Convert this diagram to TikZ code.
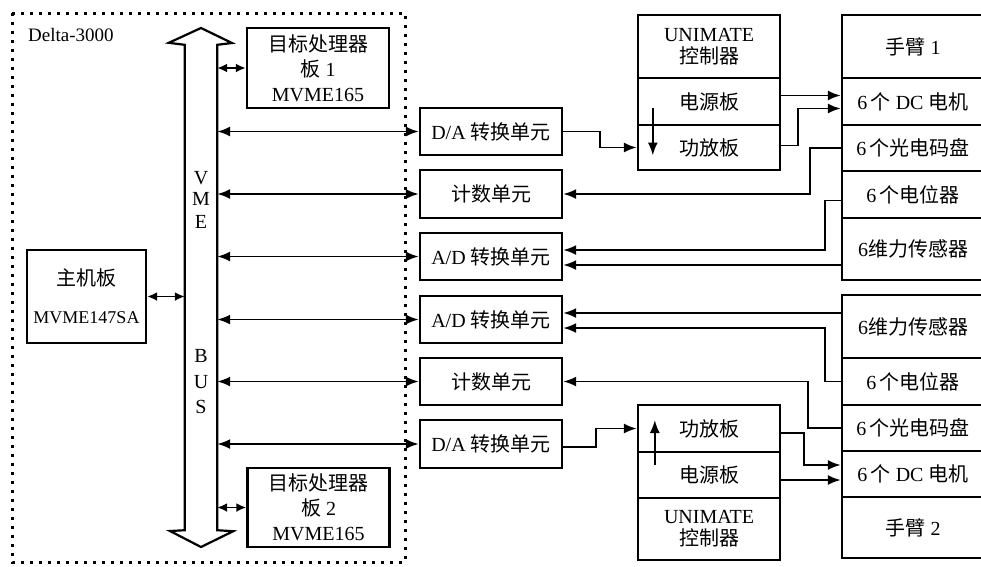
\documentclass[tikz,border=0pt]{standalone}
\usepackage{fontspec}
\setmainfont{Liberation Serif}
\newfontfamily\cjk{Noto Sans CJK SC}
\newcommand{\zh}[1]{{\cjk #1}}
\usetikzlibrary{arrows.meta,calc}
\begin{document}
\begin{tikzpicture}[x=1pt,y=-1pt,
  box/.style={draw,line width=2.4pt,inner sep=0pt,align=center,font=\fontsize{20}{25}\selectfont},
  mid/.style={box,minimum width=142pt,minimum height=47pt},
  sect/.style={box,minimum width=142pt},
  letter/.style={inner sep=0pt,font=\fontsize{20}{22}\selectfont},
  conn/.style={line width=1.9pt},
  arr/.style={conn,-{Latex[length=13pt,width=10pt]}},
  dbl/.style={conn,{Latex[length=13pt,width=10pt]}-{Latex[length=13pt,width=10pt]}},
  sdbl/.style={conn,{Latex[length=10pt,width=9pt]}-{Latex[length=10pt,width=9pt]}},
]
\clip (0,0) rectangle (981,566);
\fill[white] (0,0) rectangle (981,566);

% dotted frame
\draw[line width=3pt, dash pattern=on 3pt off 6pt] (12,13) rectangle (405,562);
\node[anchor=west,inner sep=0pt,font=\fontsize{19}{22}\selectfont] (delta) at (28,35) {Delta-3000};

% VME bus
\node[inner sep=0pt,minimum width=32pt,minimum height=485pt] (bus) at (201,287.5) {};
\draw[line width=2.2pt,line join=miter]
  (bus.south west) -- (bus.north west) -- ++(-16,-2) -- (201,28) -- (232,43)
  -- (bus.north east) -- (bus.south east) -- ++(16,1) -- (201,547) -- (170,531) -- cycle;
\node[letter] (lv) at (201,178) {V};
\node[letter] (lm) at (201,199) {M};
\node[letter] (le) at (201,222) {E};
\node[letter] (lb) at (201,356) {B};
\node[letter] (lu) at (201,382) {U};
\node[letter] (ls) at (201,407) {S};

% boards
\node[box,minimum width=142pt,minimum height=80pt] (tp1) at (318,68) {\zh{目标处理器}\\\zh{板} 1\\MVME165};
\node[box,minimum width=142pt,minimum height=79pt] (tp2) at (318.5,507.5) {\zh{目标处理器}\\\zh{板} 2\\MVME165};
\node[box,minimum width=119pt,minimum height=93pt,font=\fontsize{18}{24}\selectfont] (host) at (86.5,296.5) {{\fontsize{20}{24}\selectfont\zh{主机板}}\\[14pt]MVME147SA};

% middle units
\node[mid] (da1) at (491,131.5) {D/A \zh{转换单元}};
\node[mid,minimum height=48pt] (cnt1) at (491,194) {\zh{计数单元}};
\node[mid] (ad1) at (491,256.5) {A/D \zh{转换单元}};
\node[mid] (ad2) at (491,319.5) {A/D \zh{转换单元}};
\node[mid] (cnt2) at (491,381.5) {\zh{计数单元}};
\node[mid,minimum height=48pt] (da2) at (491,444) {D/A \zh{转换单元}};

% controllers
\node[sect,minimum height=63pt] (uni1) at (709,46.5) {UNIMATE\\[-3pt]\zh{控制器}};
\node[sect,minimum height=47pt] (ps1) at (709,101.5) {\zh{电源板}};
\node[sect,minimum height=45pt] (amp1) at (709,147.5) {\zh{功放板}};
\node[sect,minimum height=47pt] (amp2) at (709,428.5) {\zh{功放板}};
\node[sect,minimum height=46pt] (ps2) at (709,475) {\zh{电源板}};
\node[sect,minimum height=62pt] (uni2) at (709,529) {UNIMATE\\[-3pt]\zh{控制器}};

% arms
\node[sect,minimum height=63pt] (arm1) at (913,46.5) {\zh{手臂} 1};
\node[sect,minimum height=47pt] (dc1) at (913,101.5) {6\,\zh{个} DC \zh{电机}};
\node[sect,minimum height=46pt] (enc1) at (913,148) {6\,\zh{个光电码盘}};
\node[sect,minimum height=47pt] (pot1) at (913,194.5) {6\,\zh{个电位器}};
\node[sect,minimum height=62pt] (ft1) at (913,249) {6\zh{维力传感器}};
\node[sect,minimum height=63pt] (ft2) at (913,326.5) {6\zh{维力传感器}};
\node[sect,minimum height=47pt] (pot2) at (913,381.5) {6\,\zh{个电位器}};
\node[sect,minimum height=46pt] (enc2) at (913,428) {6\,\zh{个光电码盘}};
\node[sect,minimum height=46pt] (dc2) at (913,474) {6\,\zh{个} DC \zh{电机}};
\node[sect,minimum height=61pt] (arm2) at (913,527.5) {\zh{手臂} 2};

% bus connections
\draw[sdbl] (tp1.west -| bus.east) -- (tp1.west);
\draw[sdbl] (tp2.west -| bus.east) -- (tp2.west);
\draw[sdbl] (host.east) -- (host.east -| bus.west);
\foreach \n in {da1,cnt1,ad1,ad2,cnt2,da2}
  \draw[dbl] (\n.west -| bus.east) -- (\n.west);

% inner arrows in controllers
\draw[arr] ($(ps1.west)+(16,6)$) -- ($(amp1.west)+(16,8)$);
\draw[arr] ($(ps2.west)+(18,-10)$) -- ($(amp2.west)+(18,-8.5)$);

% upper signal paths
\draw[arr] (da1.east) -- ++(37,0) |- (amp1.west);
\draw[arr] ($(ps1.east)+(0,-6)$) -- ($(dc1.west)+(0,-6)$);
\draw[arr] ($(amp1.east)+(0,-2)$) -- ++(17,0) |- ($(dc1.west)+(0,7)$);
\draw[arr] (enc1.west) -- ++(-31,0) |- (cnt1.east);
\draw[arr] ($(pot1.west)+(0,6)$) -- ++(-16,0) |- ($(ad1.east)+(0,-6.5)$);
\draw[arr] ($(ft1.west)+(0,16)$) -- ($(ad1.east)+(0,8.5)$);

% lower signal paths
\draw[arr] ($(ft2.west)+(0,-13.5)$) -- ($(ad2.east)+(0,-6.5)$);
\draw[arr] (pot2.west) -- ++(-16,0) |- ($(ad2.east)+(0,8.5)$);
\draw[arr] (enc2.west) -- ++(-33,0) |- (cnt2.east);
\draw[arr] ($(da2.east)+(0,3)$) -- ++(33,0) |- (amp2.west);
\draw[arr] ($(amp2.east)+(0,4.5)$) -- ++(23,0) |- ($(dc2.west)+(0,-9)$);
\draw[arr] ($(ps2.east)+(0,5)$) -- ($(dc2.west)+(0,6)$);
\end{tikzpicture}
\end{document}
